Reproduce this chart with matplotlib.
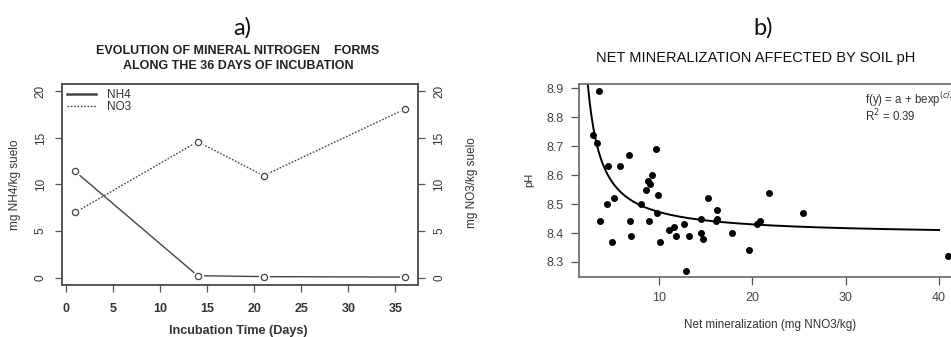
import numpy as np
import matplotlib
matplotlib.use("Agg")
import matplotlib.pyplot as plt

plt.rcParams["font.family"] = ["Liberation Sans", "DejaVu Sans"]

# a) mineral nitrogen over the incubation
days = [1, 14, 21, 36]
nh4 = [11.4, 0.2, 0.1, 0.05]
no3 = [7.0, 14.6, 10.95, 18.1]

# b) net mineralization vs soil pH
net_min = [3.57, 2.89, 3.32, 3.68, 4.54, 4.46, 5.18, 4.96, 5.86, 6.75,
           6.89, 6.96, 8.11, 8.61, 8.79, 9.0, 9.25, 8.93, 9.68, 9.89,
           9.75, 10.14, 11.04, 11.64, 11.86, 12.71, 12.93, 13.25, 14.46, 14.54,
           14.71, 15.29, 16.25, 16.25, 16.14, 17.79, 19.61, 20.5, 20.86, 21.79,
           25.46, 40.96]
ph = [8.89, 8.74, 8.71, 8.44, 8.63, 8.50, 8.52, 8.37, 8.63, 8.67,
      8.44, 8.39, 8.50, 8.55, 8.58, 8.57, 8.60, 8.44, 8.69, 8.53,
      8.47, 8.37, 8.41, 8.42, 8.39, 8.43, 8.27, 8.39, 8.45, 8.40,
      8.38, 8.52, 8.48, 8.45, 8.44, 8.40, 8.34, 8.43, 8.44, 8.54,
      8.47, 8.32]

# fitted model f = a + b*exp(c/x)
fit_a, fit_b, fit_c = 8.095, 0.297, 2.4

W, H = 951, 337
fig = plt.figure(figsize=(W / 100, H / 100), dpi=100)

frame = "#555555"
ink = "#333333"


def rect(x0, y0, x1, y1):
    return [x0 / W, 1 - y1 / H, (x1 - x0) / W, (y1 - y0) / H]


# ---------------- panel a ----------------
ax = fig.add_axes(rect(62, 84, 418, 285))
ax.set_xlim(-0.4, 37.4)
ax.set_ylim(-0.8, 20.8)

ax.plot(days, nh4, color="#444444", lw=1.0, ls="-", label="NH4")
ax.plot(days, no3, color="#444444", lw=1.0, ls=(0, (1.2, 1.2)), label="NO3")
for vals in (nh4, no3):
    ax.plot(days, vals, ls="none", marker="o", ms=7, mfc="white", mec="white")
    ax.plot(days, vals, ls="none", marker="o", ms=4.5, mfc="none",
            mec="#444444", mew=0.9)

ax.set_xticks(range(0, 36, 5))
ax.set_yticks(range(0, 21, 5))
ax.tick_params(axis="x", length=5, width=0.9, color=frame, labelsize=9,
               labelcolor=ink, pad=8)
ax.tick_params(axis="y", length=5, width=0.9, color=frame, labelsize=8.5,
               labelcolor=ink, labelrotation=90, pad=6)
for lab in ax.get_xticklabels():
    lab.set_fontweight("bold")
for lab in ax.get_yticklabels():
    lab.set_va("center")
for s in ax.spines.values():
    s.set_color(frame)
    s.set_linewidth(1.2)

ax2 = ax.twinx()
ax2.set_ylim(-0.8, 20.8)
ax2.set_yticks(range(0, 21, 5))
ax2.tick_params(axis="y", length=5, width=0.9, color=frame, labelsize=8.5,
                labelcolor=ink, labelrotation=90, pad=6)
for lab in ax2.get_yticklabels():
    lab.set_va("center")
for s in ax2.spines.values():
    s.set_color(frame)
    s.set_linewidth(1.2)

leg = ax.legend(loc="upper left", bbox_to_anchor=(-0.005, 1.01), frameon=False,
                fontsize=8.5, handlelength=2.4, handletextpad=1.0,
                labelspacing=0.0, borderaxespad=0.2)
for t in leg.get_texts():
    t.set_color(ink)
leg.get_lines()[0].set_linewidth(1.8)

fig.text(15 / W, 1 - 185 / H, "mg NH4/kg suelo", rotation=90, ha="center",
         va="center", fontsize=8.5, color=ink)
fig.text(472 / W, 1 - 183 / H, "mg NO3/kg suelo", rotation=90, ha="center",
         va="center", fontsize=8.5, color=ink)
fig.text(238 / W, 1 - 331 / H, "Incubation Time (Days)", ha="center",
         va="center", fontsize=9.1, fontweight="bold", color=ink)
fig.text(242 / W, 1 - 28 / H, "a)", ha="center", va="center", fontsize=17,
         family=["Lato", "DejaVu Sans"], color="#111111")
fig.text(238 / W, 1 - 51 / H, "EVOLUTION OF MINERAL NITROGEN    FORMS",
         ha="center", va="center", fontsize=9, fontweight="bold", color="#222222")
fig.text(238 / W, 1 - 66 / H, "ALONG THE 36 DAYS OF INCUBATION",
         ha="center", va="center", fontsize=9, fontweight="bold", color="#222222")

# ---------------- panel b ----------------
bx = fig.add_axes(rect(578.7, 84, 971.7, 276.7))
bx.set_xlim(1.39, 43.5)
bx.set_ylim(8.249, 8.915)

bx.scatter(net_min, ph, s=16, color="black", zorder=3, clip_on=False)
xs = np.linspace(2.0, 40, 400)
bx.plot(xs, fit_a + fit_b * np.exp(fit_c / xs), color="black", lw=1.4)

bx.set_xticks([10, 20, 30, 40])
bx.set_yticks([8.3, 8.4, 8.5, 8.6, 8.7, 8.8, 8.9])
bx.set_yticklabels(["8.3", "8.4", "8.5", "8.6", "8.7", "8.8", "8.9"])
bx.tick_params(axis="both", length=6, width=0.9, color=frame, labelsize=9,
               labelcolor="#444444", pad=5)
for s in bx.spines.values():
    s.set_color("#666666")
    s.set_linewidth(1.2)

bx.text(865 / W, 1 - 100 / H, r"f(y) = a + bexp$^{(c/x)}$", transform=fig.transFigure,
        ha="left", va="center", fontsize=8.3, color=ink)
bx.text(865 / W, 1 - 116 / H, r"R$^2$ = 0.39", transform=fig.transFigure,
        ha="left", va="center", fontsize=8.3, color=ink)

fig.text(529 / W, 1 - 180 / H, "pH", rotation=90, ha="center", va="center",
         fontsize=8, color=ink)
fig.text(770 / W, 1 - 325 / H, "Net mineralization (mg NNO3/kg)", ha="center",
         va="center", fontsize=8.4, color=ink)
fig.text(763 / W, 1 - 28 / H, "b)", ha="center", va="center", fontsize=17,
         family=["Lato", "DejaVu Sans"], color="#111111")
fig.text(756 / W, 1 - 58 / H, "NET MINERALIZATION AFFECTED BY SOIL pH",
         ha="center", va="center", fontsize=10.5, color="#111111")

fig.savefig("out.png", dpi=100)
